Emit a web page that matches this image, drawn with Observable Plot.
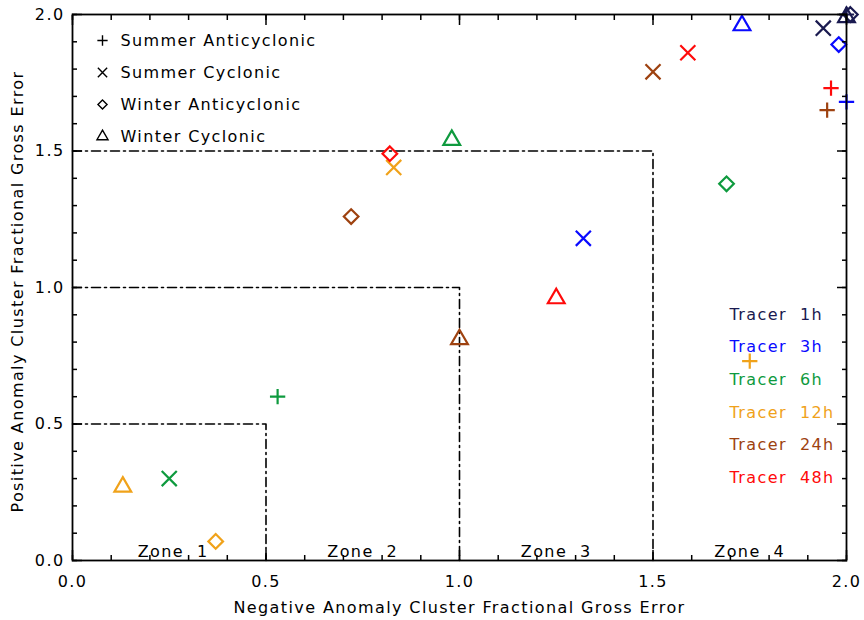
<!DOCTYPE html>
<html>
<head>
<meta charset="utf-8">
<script src="https://cdn.jsdelivr.net/npm/d3@7"></script>
<script src="https://cdn.jsdelivr.net/npm/@observablehq/plot@0.6"></script>
<style>
  html, body { margin: 0; padding: 0; background: #fff; }
  #chart svg { font-family: "DejaVu Sans", sans-serif; }
  #chart svg text { letter-spacing: 1.4px; white-space: pre; }
</style>
</head>
<body>
<div id="chart"></div>
<script>
// ---- data ----
const tracers = ["Tracer  1h", "Tracer  3h", "Tracer  6h", "Tracer  12h", "Tracer  24h", "Tracer  48h"];
const tracerColors = ["#1a1a50", "#0a0aff", "#0e9a3e", "#f0a21a", "#9e4210", "#ff0a0a"];
const categories = ["Summer Anticyclonic", "Summer Cyclonic", "Winter Anticyclonic", "Winter Cyclonic"];
const categorySymbols = ["plus", "times", "diamond2", "triangle2"];

// values indexed by tracer (1h, 3h, 6h, 12h, 24h, 48h)
const summerAntiX = [2.00, 2.00, 0.53, 1.75, 1.95, 1.96];
const summerAntiY = [2.00, 1.68, 0.60, 0.73, 1.65, 1.73];
const summerCycX  = [1.94, 1.32, 0.25, 0.83, 1.50, 1.59];
const summerCycY  = [1.95, 1.18, 0.30, 1.44, 1.79, 1.86];
const winterAntiX = [2.01, 1.98, 1.69, 0.37, 0.72, 0.82];
const winterAntiY = [2.00, 1.89, 1.38, 0.07, 1.26, 1.49];
const winterCycX  = [2.00, 1.73, 0.98, 0.13, 1.00, 1.25];
const winterCycY  = [1.99, 1.96, 1.54, 0.27, 0.81, 0.96];

const zoneBounds = [0.5, 1.0, 1.5];
const zoneLabels = ["Zone  1", "Zone  2", "Zone  3", "Zone  4"];
const zoneCenters = [0.26, 0.75, 1.25, 1.75];
const majorTicks = [0, 0.5, 1.0, 1.5, 2.0];
const minorTicks = d3.range(0, 21).map(i => i / 10);

const xTitle = "Negative Anomaly Cluster Fractional Gross Error";
const yTitle = "Positive Anomaly Cluster Fractional Gross Error";

// ---- build tables ----
const series = [
  [summerAntiX, summerAntiY],
  [summerCycX, summerCycY],
  [winterAntiX, winterAntiY],
  [winterCycX, winterCycY]
];
const points = [];
series.forEach(([xs, ys], c) => {
  tracers.forEach((t, i) => points.push({category: categories[c], symbol: categorySymbols[c], tracer: t, x: xs[i], y: ys[i]}));
});
const zoneLines = zoneBounds.flatMap(z => [
  {zone: z, x: 0, y: z}, {zone: z, x: z, y: z}, {zone: z, x: z, y: 0}
]);

const symbolR = {plus: 5.0, times: 6.9, diamond2: 6.6, triangle2: 8.0};
const legendR = {plus: 3.4, times: 4.3, diamond2: 4.1, triangle2: 5.3};

const W = 864, H = 620;
const mL = 72, mR = 18, mT = 14, mB = 60;

const marks = [];
// zone lines
marks.push(Plot.line(zoneLines, {x: "x", y: "y", z: "zone", stroke: "black", strokeWidth: 1.6, strokeDasharray: "9,4,2,4"}));
// zone labels
marks.push(Plot.text(zoneLabels, {x: (d, i) => zoneCenters[i], y: 0, text: d => d, dy: -9, lineAnchor: "middle", fontSize: 16, fill: "black"}));
// data points
categorySymbols.forEach(s => {
  marks.push(Plot.dot(points.filter(p => p.symbol === s), {
    x: "x", y: "y", stroke: "tracer", symbol: s, r: symbolR[s], strokeWidth: 2.2
  }));
});
// legend (symbols)
categories.forEach((c, i) => {
  marks.push(Plot.dot([c], {frameAnchor: "top-left", dx: 30, dy: 26 + 32 * i, symbol: categorySymbols[i], r: legendR[categorySymbols[i]], stroke: "black", strokeWidth: 1.4}));
  marks.push(Plot.text([c], {frameAnchor: "top-left", dx: 48, dy: 26 + 32 * i, text: d => d, textAnchor: "start", lineAnchor: "middle", fontSize: 16, fill: "black"}));
});
// tracer labels
tracers.forEach((t, i) => {
  marks.push(Plot.text([t], {frameAnchor: "top-left", dx: 657, dy: 300 + 32.7 * i, text: d => d, textAnchor: "start", lineAnchor: "middle", fontSize: 16, fill: tracerColors[i]}));
});
// frame
marks.push(Plot.frame({stroke: "black", strokeWidth: 1.8}));
// ticks (inward) on all four sides
["bottom", "top"].forEach(a => {
  marks.push(Plot.axisX({anchor: a, ticks: majorTicks, tickSize: -10, text: null, label: null, strokeWidth: 1.5}));
  marks.push(Plot.axisX({anchor: a, ticks: minorTicks, tickSize: -5, text: null, label: null, strokeWidth: 1.5}));
});
["left", "right"].forEach(a => {
  marks.push(Plot.axisY({anchor: a, ticks: majorTicks, tickSize: -10, text: null, label: null, strokeWidth: 1.5}));
  marks.push(Plot.axisY({anchor: a, ticks: minorTicks, tickSize: -5, text: null, label: null, strokeWidth: 1.5}));
});
// tick labels
marks.push(Plot.axisX({anchor: "bottom", ticks: majorTicks, tickFormat: d3.format(".1f"), tickSize: 0, tickPadding: 15, fontSize: 16, label: null, fill: "black"}));
marks.push(Plot.axisY({anchor: "left", ticks: majorTicks, tickFormat: d3.format(".1f"), tickSize: 0, tickPadding: 8, fontSize: 16, label: null, fill: "black"}));
// axis titles
marks.push(Plot.text([xTitle], {frameAnchor: "bottom", dy: 47, text: d => d, lineAnchor: "middle", textAnchor: "middle", fontSize: 16, fill: "black"}));
marks.push(Plot.text([yTitle], {frameAnchor: "left", dx: -55, dy: 4, rotate: -90, text: d => d, lineAnchor: "middle", textAnchor: "middle", fontSize: 16, fill: "black", style: "letter-spacing:1.7px"}));

const chart = Plot.plot({
  width: W, height: H,
  marginLeft: mL, marginRight: mR, marginTop: mT, marginBottom: mB,
  style: {fontFamily: "DejaVu Sans, sans-serif", background: "white", color: "black", overflow: "visible"},
  x: {domain: [0, 2]},
  y: {domain: [0, 2]},
  color: {domain: tracers, range: tracerColors},
  marks
});
document.getElementById("chart").appendChild(chart);
</script>
</body>
</html>
